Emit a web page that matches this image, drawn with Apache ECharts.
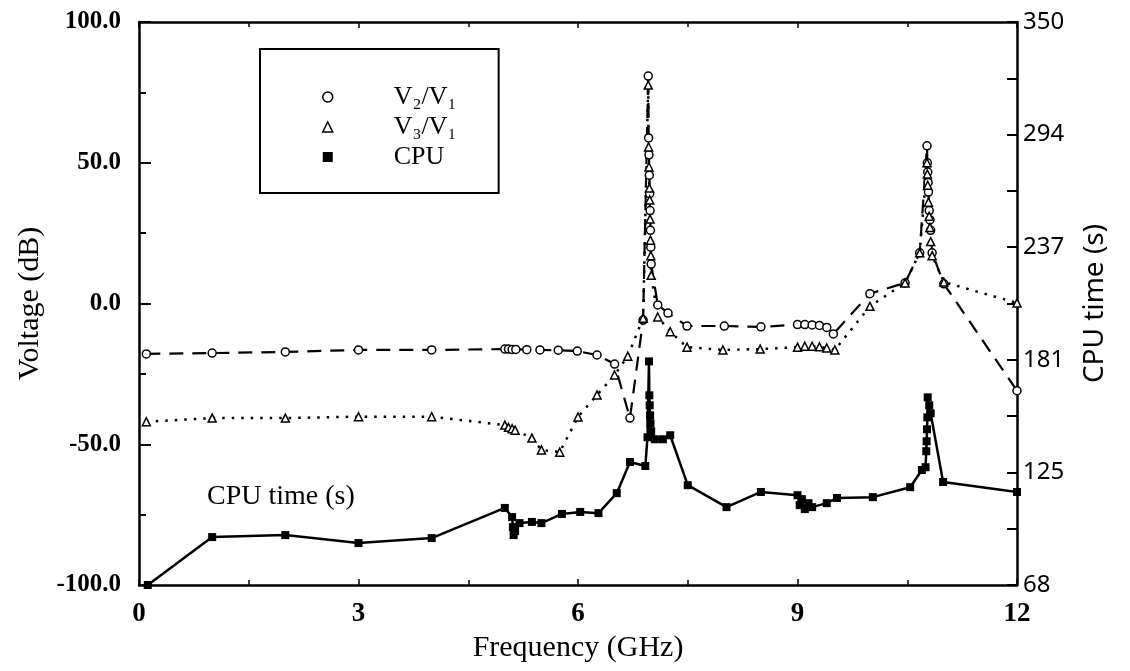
<!DOCTYPE html>
<html>
<head>
<meta charset="utf-8">
<title>Voltage and CPU time vs frequency</title>
<script src="https://cdn.jsdelivr.net/npm/echarts@6.0.0/dist/echarts.min.js"></script>
<style>
  html, body { margin: 0; padding: 0; background: #fff; }
  #chart { width: 1130px; height: 671px; }
</style>
</head>
<body>
<div id="chart"></div>
<script>
// V2/V1 (open circles, dashed)
const v2Freq = [0.1, 1, 2, 3, 4, 5, 5.05, 5.1, 5.15, 5.3, 5.48, 5.73, 5.99, 6.26, 6.5, 6.71, 6.89,
  6.96, 6.965, 6.97, 6.975, 6.98, 6.985, 6.99, 6.995, 7.0, 7.09, 7.23, 7.49, 8.0, 8.5,
  9.0, 9.1, 9.2, 9.3, 9.4, 9.49, 9.99, 10.47, 10.67,
  10.77, 10.775, 10.78, 10.785, 10.79, 10.8, 10.81, 10.82, 10.84, 11.0, 12]
const v2Db = [-17.9, -17.6, -17.2, -16.5, -16.5, -16.2, -16.2, -16.3, -16.3, -16.4, -16.5, -16.6, -16.9, -18.3, -21.5, -40.7, -5.9,
  80.8, 58.8, 52.8, 45.6, 39, 33, 26, 20, 14, -0.5, -3.4, -8, -8, -8.3,
  -7.5, -7.5, -7.6, -7.8, -8.5, -10.8, 3.5, 7.3, 18,
  56, 50, 46.7, 43, 39.6, 33, 29.7, 26, 18, 7, -31]

// V3/V1 (open triangles, dotted)
const v3Freq = [0.1, 1, 2, 3, 4, 5, 5.05, 5.1, 5.14, 5.37, 5.5, 5.75, 6.0, 6.26, 6.5, 6.68, 6.89,
  6.96, 6.965, 6.97, 6.975, 6.98, 6.985, 6.99, 6.995, 7.0, 7.09, 7.26, 7.49, 7.98, 8.49,
  9.0, 9.1, 9.2, 9.3, 9.4, 9.51, 9.99, 10.47, 10.67,
  10.77, 10.775, 10.78, 10.79, 10.8, 10.81, 10.82, 10.84, 11.0, 12]
const v3Db = [-42, -40.7, -40.7, -40.2, -40.2, -43.2, -44, -44.5, -45, -47.8, -52, -52.8, -40.3, -32.5, -25.4, -18.7, -5.2,
  77.6, 55.6, 48.5, 41, 36.8, 30, 22.5, 17, 10, -4.8, -10, -15.5, -16.5, -16.2,
  -15.5, -15.2, -15.2, -15.4, -15.8, -16.5, -1, 7.3, 18,
  50, 46, 42, 36, 31, 27, 22, 17, 7.6, 0.2]

// CPU time (filled squares, solid, right axis)
const cpuFreq = [0.12, 1, 2, 3, 4, 5, 5.1, 5.11, 5.12, 5.14, 5.2, 5.37, 5.5, 5.78, 6.03, 6.28, 6.53, 6.71, 6.92,
  6.95, 6.97, 6.975, 6.98, 6.985, 6.99, 7.0, 7.05, 7.16, 7.26, 7.5, 8.03, 8.5,
  9.0, 9.03, 9.06, 9.1, 9.15, 9.2, 9.4, 9.54, 10.03, 10.54, 10.7, 10.75,
  10.76, 10.765, 10.77, 10.775, 10.78, 10.8, 10.82, 10.99, 12]
const cpuTime = [68, 92, 93, 89, 91.5, 106.6, 102, 97, 93, 95, 99, 99.6, 99, 103.6, 104.6, 104, 114, 129.6, 127.6,
  142, 180, 163, 158, 153, 149, 145, 141, 141, 143, 118, 107, 114.6,
  113, 108, 111, 106, 109, 107, 109, 111.6, 112, 117, 125.6, 127,
  135, 140, 146, 152, 162, 158, 154, 119.6, 114.6]

// right axis ticks
const cpuTicks = [68, 124.4, 180.8, 237.2, 293.6, 350]
const cpuTickLabels = ['68', '125', '181', '237', '294', '350']
const cpuMinorTicks = [96.2, 152.6, 209, 265.4, 321.8]

const zip = (xs, ys) => xs.map((x, i) => [x, ys[i]])

const serif = 'Liberation Serif'
const black = '#000'

const chart = echarts.init(document.getElementById('chart'), null, { renderer: 'canvas' })

const axisLine = { show: true, onZero: false, lineStyle: { color: black, width: 2.5 } }

const xBase = {
  type: 'value',
  min: 0,
  max: 12,
  interval: 3,
  axisLine,
  axisTick: { show: true, inside: true, length: 6, lineStyle: { color: black, width: 1.5 } },
  minorTick: { show: true, splitNumber: 2, length: 5, lineStyle: { color: black, width: 1.5 } },
  splitLine: { show: false },
  minorSplitLine: { show: false },
}

chart.setOption({
  backgroundColor: '#fff',
  animation: false,
  grid: { left: 139, right: 113, top: 22, bottom: 86, outerBoundsMode: 'none' },
  legend: {
    left: 260,
    top: 49,
    orient: 'vertical',
    padding: [33, 42, 21, 62],
    itemGap: 0,
    itemWidth: 10,
    itemHeight: 10,
    borderColor: black,
    borderWidth: 2,
    selectedMode: false,
    textStyle: { fontFamily: serif, fontSize: 26, color: black, lineHeight: 30, padding: [0, 0, 0, 56] },
    data: [
      { name: 'V₂/V₁', icon: 'circle', itemStyle: { color: '#fff', borderColor: black, borderWidth: 1.5 } },
      { name: 'V₃/V₁', icon: 'triangle', itemStyle: { color: '#fff', borderColor: black, borderWidth: 1.5 } },
      { name: 'CPU', icon: 'rect', itemStyle: { color: black } },
    ],
  },
  xAxis: [
    {
      ...xBase,
      position: 'bottom',
      axisLabel: { fontFamily: serif, fontSize: 27, fontWeight: 'bold', color: black, margin: 16 },
      name: 'Frequency (GHz)',
      nameLocation: 'middle',
      nameGap: 44,
      nameTextStyle: { fontFamily: serif, fontSize: 30, color: black },
    },
    {
      ...xBase,
      position: 'top',
      axisLabel: { show: false },
    },
  ],
  yAxis: [
    {
      type: 'value',
      min: -100,
      max: 100,
      interval: 50,
      position: 'left',
      axisLine,
      axisTick: { show: true, inside: true, length: 12, lineStyle: { color: black, width: 2 } },
      minorTick: { show: true, splitNumber: 2, length: 7, lineStyle: { color: black, width: 2 } },
      splitLine: { show: false },
      axisLabel: {
        fontFamily: serif, fontSize: 25, fontWeight: 'bold', color: black, margin: 18,
        formatter: (v) => v.toFixed(1),
      },
      name: 'Voltage (dB)',
      nameLocation: 'middle',
      nameRotate: 90,
      nameGap: 92,
      nameTextStyle: { fontFamily: serif, fontSize: 30, color: black },
    },
    {
      type: 'value',
      min: 68,
      max: 350,
      position: 'right',
      axisLine,
      axisTick: {
        show: true, inside: true, length: 10,
        customValues: cpuTicks.concat(cpuMinorTicks),
        lineStyle: { color: black, width: 2 },
      },
      splitLine: { show: false },
      axisLabel: {
        fontFamily: 'Noto Sans', fontSize: 24, color: black, margin: 6,
        customValues: cpuTicks,
        formatter: (v) => {
          let best = 0
          cpuTicks.forEach((t, i) => { if (Math.abs(t - v) < Math.abs(cpuTicks[best] - v)) best = i })
          return cpuTickLabels[best]
        },
      },
      name: 'CPU time (s)',
      nameLocation: 'middle',
      nameRotate: 90,
      nameGap: 64,
      nameTextStyle: { fontFamily: 'Noto Sans', fontSize: 28, color: black },
    },
  ],
  graphic: [
    {
      type: 'text',
      left: 207,
      top: 483,
      style: { text: 'CPU time (s)', font: '28px "Liberation Serif"', fill: black },
    },
  ],
  series: [
    {
      name: 'V₂/V₁',
      type: 'line',
      data: zip(v2Freq, v2Db),
      symbol: 'circle',
      symbolSize: 8,
      showSymbol: true,
      showAllSymbol: true,
      itemStyle: { color: '#fff', borderColor: black, borderWidth: 1.5 },
      lineStyle: { color: black, width: 2.2, type: [14, 9] },
      z: 3,
    },
    {
      name: 'V₃/V₁',
      type: 'line',
      data: zip(v3Freq, v3Db),
      symbol: 'triangle',
      symbolSize: 8,
      showSymbol: true,
      showAllSymbol: true,
      itemStyle: { color: '#fff', borderColor: black, borderWidth: 1.5 },
      lineStyle: { color: black, width: 2.5, type: [2.5, 7] },
      z: 3,
    },
    {
      name: 'CPU',
      type: 'line',
      yAxisIndex: 1,
      data: zip(cpuFreq, cpuTime),
      symbol: 'rect',
      symbolSize: 8,
      showSymbol: true,
      showAllSymbol: true,
      itemStyle: { color: black },
      lineStyle: { color: black, width: 2.5 },
      z: 4,
    },
  ],
})
</script>
</body>
</html>
